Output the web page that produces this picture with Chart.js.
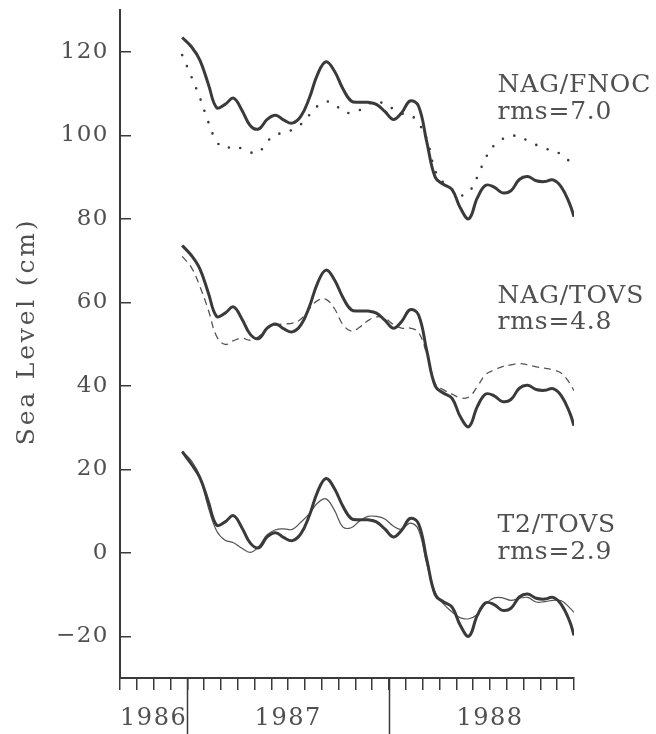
<!DOCTYPE html>
<html>
<head>
<meta charset="utf-8">
<script src="https://cdn.jsdelivr.net/npm/chart.js@4/dist/chart.umd.min.js"></script>
<style>
  html, body { margin: 0; padding: 0; background: #ffffff; }
  canvas { display: block; }
</style>
</head>
<body>
<canvas id="c" width="656" height="734"></canvas>
<script>
// x values: months since 1 Sep 1986
const months = [3.7, 4.25, 4.75, 5.25, 5.75, 6.25, 6.75, 7.25, 7.75, 8.25, 8.75, 9.25, 9.75, 10.25, 10.75, 11.25,
  11.75, 12.25, 12.75, 13.25, 13.75, 14.25, 14.75, 15.25, 15.75, 16.25, 16.75, 17.25, 17.75, 18.25, 18.75, 19.25,
  19.75, 20.25, 20.75, 21.25, 21.75, 22.25, 22.75, 23.25, 23.75, 24.25, 24.75, 25.25, 25.75, 26.25, 26.75, 27.0];

// thick reference curve in each panel (offset panels)
const obsTop = [123.4, 121.2, 118.0, 112.3, 106.6, 107.4, 108.9, 106.0, 102.3, 101.5, 103.8, 104.8, 103.6, 102.9, 104.5, 108.8,
  114.6, 117.6, 115.4, 111.2, 108.2, 107.9, 107.9, 107.4, 105.7, 103.8, 105.4, 108.2, 107.0, 98.3, 89.9, 88.2,
  87.0, 82.5, 80.0, 85.0, 88.0, 87.6, 86.2, 86.7, 89.4, 90.1, 89.1, 88.9, 89.3, 87.6, 83.5, 80.5];
const obsMid = [73.6, 71.2, 68.0, 62.3, 56.6, 57.4, 58.9, 56.0, 52.3, 51.3, 53.8, 54.8, 53.6, 52.9, 54.5, 58.8,
  64.6, 67.7, 65.4, 61.2, 58.2, 57.9, 57.9, 57.4, 55.7, 53.8, 55.4, 58.2, 57.0, 48.3, 39.9, 38.2,
  37.0, 32.5, 30.2, 35.0, 38.0, 37.6, 36.2, 36.7, 39.4, 40.1, 39.1, 38.9, 39.3, 37.6, 33.5, 30.4];
const obsBot = [24.2, 21.2, 18.0, 12.3, 6.6, 7.4, 8.9, 6.0, 2.3, 1.2, 3.8, 4.8, 3.6, 2.9, 4.5, 8.8,
  14.6, 17.8, 15.4, 11.2, 8.2, 7.9, 7.9, 7.4, 5.7, 3.8, 5.4, 8.2, 7.0, -1.7, -10.1, -11.8,
  -13.0, -17.5, -20.0, -15.0, -12.0, -12.4, -13.8, -13.3, -10.6, -9.9, -10.9, -11.1, -10.7, -12.4, -16.5, -19.8];

// model series
const nagFnoc = [119.2, 114.0, 109.0, 103.2, 98.5, 96.9, 97.4, 96.8, 95.9, 95.9, 98.5, 100.0, 100.7, 101.3, 102.6, 104.8,
  107.0, 108.1, 107.4, 105.8, 105.3, 106.0, 107.5, 108.0, 107.5, 106.3, 105.2, 104.9, 102.9, 99.0, 91.5, 88.6,
  87.0, 85.6, 86.4, 90.0, 94.6, 97.6, 99.1, 99.9, 99.6, 98.7, 97.7, 96.9, 96.2, 95.4, 93.7, 92.8];
const nagTovs = [71.0, 68.3, 63.8, 58.2, 51.8, 49.9, 50.8, 51.4, 50.9, 51.8, 53.8, 54.5, 54.8, 55.0, 55.9, 58.4,
  60.4, 60.7, 58.5, 54.7, 53.1, 54.0, 55.6, 56.5, 56.2, 54.7, 53.8, 53.8, 52.8, 47.5, 40.5, 39.0,
  38.0, 37.1, 37.3, 39.8, 42.7, 43.8, 44.6, 45.0, 45.3, 45.0, 44.5, 44.2, 43.8, 43.0, 40.6, 38.8];
const t2Tovs = [24.3, 22.0, 18.3, 10.9, 5.2, 3.0, 2.4, 1.1, 0.1, 1.5, 4.3, 5.5, 5.7, 5.6, 7.3, 9.3,
  11.9, 12.9, 10.2, 6.2, 6.0, 7.6, 8.7, 8.7, 8.1, 6.4, 5.6, 7.1, 5.5, -2.8, -9.5, -12.3,
  -14.2, -15.6, -15.8, -14.8, -12.2, -10.8, -10.8, -11.4, -10.9, -10.7, -11.8, -11.7, -11.4, -11.5, -13.2, -14.3];

// axes
const yTicks = [-20, 0, 20, 40, 60, 80, 100, 120];
const monthTicks = [0,1,2,3,4,5,6,7,8,9,10,11,12,13,14,15,16,17,18,19,20,21,22,23,24,25,26,27];
const yearBounds = [4, 16];
const yearLabelPos = [2, 10, 22];
const yearLabels = ['1986', '1987', '1988'];
const yTitle = 'Sea Level (cm)';

// panel annotations
const annText = ['NAG/FNOC', 'rms=7.0', 'NAG/TOVS', 'rms=4.8', 'T2/TOVS', 'rms=2.9'];
const annX = [22.45, 22.45, 22.45, 22.45, 22.45, 22.45];
const annY = [110.3, 103.9, 59.8, 53.6, 5.0, -1.5];

const toXY = (ys) => ys.map((v, i) => ({ x: months[i], y: v }));
const INK = '#3a3a3a';
const TXT = '#505050';
const SERIF = "'DejaVu Serif', serif";

const thick = { borderColor: INK, borderWidth: 3, pointRadius: 0, tension: 0.4, fill: false };

const overlay = {
  id: 'overlay',
  beforeDraw(chart) {
    const ctx = chart.ctx;
    ctx.save();
    ctx.fillStyle = '#ffffff';
    ctx.fillRect(0, 0, chart.width, chart.height);
    ctx.restore();
    ctx.letterSpacing = '1.5px';
  },
  afterDraw(chart) {
    const ctx = chart.ctx;
    const xs = chart.scales.x, ys = chart.scales.y;
    ctx.save();
    ctx.strokeStyle = INK;
    ctx.lineWidth = 1.5;
    yearBounds.forEach(v => {
      const px = Math.round(xs.getPixelForValue(v)) + 0.5;
      ctx.beginPath();
      ctx.moveTo(px, chart.chartArea.bottom);
      ctx.lineTo(px, chart.height);
      ctx.stroke();
    });
    ctx.fillStyle = TXT;
    ctx.font = '25px ' + SERIF;
    ctx.letterSpacing = '0.8px';
    ctx.textAlign = 'left';
    ctx.textBaseline = 'alphabetic';
    annText.forEach((t, i) => {
      ctx.fillText(t, xs.getPixelForValue(annX[i]), ys.getPixelForValue(annY[i]));
    });
    // y axis title
    ctx.save();
    ctx.translate(27, ys.getPixelForValue(53));
    ctx.rotate(-Math.PI / 2);
    ctx.font = '25px ' + SERIF;
    ctx.letterSpacing = '2.8px';
    ctx.textAlign = 'center';
    ctx.textBaseline = 'middle';
    ctx.fillText(yTitle, 0, 0);
    ctx.restore();
    ctx.restore();
  }
};

new Chart(document.getElementById('c'), {
  type: 'line',
  data: {
    datasets: [
      Object.assign({ label: 'obs top', data: toXY(obsTop) }, thick),
      { label: 'NAG/FNOC', data: toXY(nagFnoc), borderColor: INK, borderWidth: 2.6, borderDash: [0, 12],
        borderCapStyle: 'round', pointRadius: 0, tension: 0.4, fill: false },
      Object.assign({ label: 'obs mid', data: toXY(obsMid) }, thick),
      { label: 'NAG/TOVS', data: toXY(nagTovs), borderColor: '#555', borderWidth: 1.3, borderDash: [7, 5],
        pointRadius: 0, tension: 0.4, fill: false },
      Object.assign({ label: 'obs bot', data: toXY(obsBot) }, thick),
      { label: 'T2/TOVS', data: toXY(t2Tovs), borderColor: '#555', borderWidth: 1.2,
        pointRadius: 0, tension: 0.4, fill: false }
    ]
  },
  options: {
    responsive: false,
    animation: false,
    layout: { padding: { left: 0, top: 10, right: 82, bottom: 0 } },
    plugins: { legend: { display: false }, tooltip: { enabled: false } },
    scales: {
      x: {
        type: 'linear', position: 'bottom', min: 0, max: 27,
        afterBuildTicks: (s) => { s.ticks = monthTicks.map(v => ({ value: v })); },
        afterFit: (s) => { s.height = 14; s.paddingLeft = 0; s.paddingRight = 0; },
        ticks: { display: false },
        grid: { drawOnChartArea: false, drawTicks: true, tickLength: 12, color: INK, lineWidth: 1.5 },
        border: { display: true, color: INK, width: 2 }
      },
      xYear: {
        type: 'linear', position: 'bottom', min: 0, max: 27,
        afterBuildTicks: (s) => { s.ticks = yearLabelPos.map(v => ({ value: v })); },
        afterFit: (s) => { s.height = 42; s.paddingLeft = 0; s.paddingRight = 0; },
        ticks: {
          color: TXT, font: { family: SERIF, size: 24 }, padding: 12, maxRotation: 0, autoSkip: false,
          callback: (v) => { const i = yearLabelPos.indexOf(v); return i >= 0 ? yearLabels[i] : ''; }
        },
        grid: { display: false, drawTicks: false },
        border: { display: false }
      },
      y: {
        type: 'linear', position: 'left', min: -30, max: 130,
        afterBuildTicks: (s) => { s.ticks = yTicks.map(v => ({ value: v })); },
        afterFit: (s) => { s.width = 120; s.paddingTop = 0; s.paddingBottom = 0; },
        ticks: {
          color: TXT, font: { family: SERIF, size: 23 }, padding: 22,
          callback: (v) => (v < 0 ? '\u2212' + Math.abs(v) : String(v))
        },
        grid: { drawOnChartArea: false, drawTicks: true, tickLength: -11, color: INK, lineWidth: 1.5 },
        border: { display: true, color: INK, width: 2 }
      }
    }
  },
  plugins: [overlay]
});
</script>
</body>
</html>
